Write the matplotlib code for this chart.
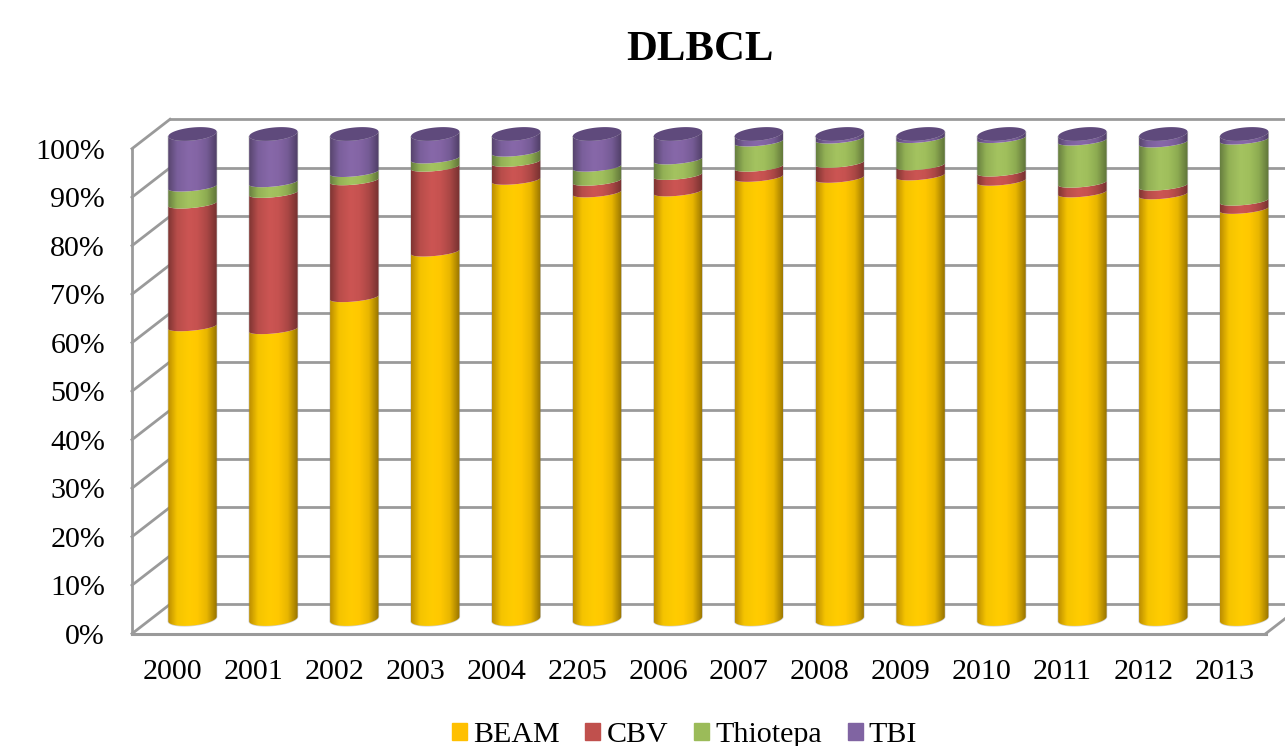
import numpy as np
import matplotlib
matplotlib.use('Agg')
import matplotlib.pyplot as plt
from matplotlib.patches import Patch, PathPatch, Polygon
from matplotlib.path import Path
from matplotlib.colors import LinearSegmentedColormap

plt.rcParams['font.family'] = ['Liberation Serif', 'DejaVu Serif']

# data, percent of each year
years = ['2000', '2001', '2002', '2003', '2004', '2205', '2006',
         '2007', '2008', '2009', '2010', '2011', '2012', '2013']
beam = [60.8, 60.2, 66.8, 76.2, 91.0, 88.4, 88.6, 91.6, 91.4, 91.9, 90.8, 88.4, 88.0, 85.0]
cbv = [25.3, 28.1, 24.1, 17.5, 3.7, 2.4, 3.4, 2.1, 3.1, 2.1, 1.9, 2.0, 1.8, 1.7]
thiotepa = [3.5, 2.2, 1.7, 1.7, 2.1, 2.9, 3.2, 5.2, 5.0, 5.6, 6.9, 8.7, 8.9, 12.6]
tbi = [10.4, 9.5, 7.4, 4.6, 3.2, 6.3, 4.8, 1.1, 0.5, 0.4, 0.4, 0.9, 1.3, 0.7]
y_ticks = [0, 10, 20, 30, 40, 50, 60, 70, 80, 90, 100]

names = ['BEAM', 'CBV', 'Thiotepa', 'TBI']
series = [beam, cbv, thiotepa, tbi]
colors = ['#ffc000', '#c0504d', '#9bbb59', '#8064a2']
# left edge, centre, right edge of each cylinder
shades = [('#bd8f00', '#f5c400', '#ffcc00', '#ffc800', '#e8b600', '#987400'),
          ('#803533', '#b84d4a', '#cc5553', '#c65250', '#ab4745', '#763130'),
          ('#688040', '#93b155', '#a4c360', '#a0bf5c', '#8dab51', '#607539'),
          ('#58456f', '#7a5f9b', '#8768a9', '#8465a5', '#755b95', '#503f67')]
cap_color = '#5f4a7c'

px_x = 80.9          # pixels per category
px_y = 4.85          # pixels per percent
half_w = 24.2 / px_x
arc_h = 6.5 / px_y
inner_h = 4.0 / px_y # boundaries between segments look flatter than the ends
tilt = 2.3 / px_y
dx = 19 / px_x       # half depth of the 3d box
dy = 14.7 / px_y
wall_color = '#9a9a9a'

fig = plt.figure(figsize=(12.85, 7.46), dpi=100)
ax = fig.add_axes([0, 0, 1, 1])
ax.axis('off')
xlim = (-192.5 / px_x, (1285 - 192.5) / px_x)
ylim = ((619 - 746) / px_y, 619 / px_y)
n = len(years)
left = -0.748 + dx   # middle of the left wall
right = n - 1 + 0.265

# walls and gridlines
for v in y_ticks:
    ax.plot([left - dx, left + dx], [v - dy, v + dy], color=wall_color, lw=2, zorder=1)
    ax.plot([left + dx, xlim[1] + 1], [v + dy, v + dy], color=wall_color, lw=2, zorder=1)
ax.plot([left - dx, left - dx], [-dy, 100 - dy], color=wall_color, lw=2, zorder=1)
ax.plot([left - dx, right], [-dy, -dy], color=wall_color, lw=2.2, zorder=1)
ax.plot([right, right + 2 * dx], [-dy, dy], color=wall_color, lw=2, zorder=1)

t = np.linspace(np.pi, 2 * np.pi, 50)


def front_arc(c, level, h=arc_h):
    # lower half of the tilted ellipse, left to right
    return np.column_stack([c + half_w * np.cos(t),
                            level - arc_h + h + h * np.sin(t) + tilt * np.cos(t)])


bottom = np.zeros(n)
for k, (vals, shade) in enumerate(zip(series, shades)):
    cmap = LinearSegmentedColormap.from_list('cyl', list(zip([0, 0.18, 0.42, 0.6, 0.8, 1], shade)))
    for i in range(n):
        low = front_arc(i, bottom[i], arc_h if k == 0 else inner_h)
        high = front_arc(i, bottom[i] + vals[i], arc_h if k == 3 else inner_h)[::-1]
        verts = np.vstack([low, high, low[:1]])
        im = ax.imshow(np.linspace(0, 1, 64).reshape(1, -1), cmap=cmap, aspect='auto',
                       extent=(i - half_w, i + half_w, bottom[i] - 3, bottom[i] + vals[i] + 3),
                       zorder=3, interpolation='bilinear')
        clip = PathPatch(Path(verts), transform=ax.transData, fc='none', ec='none')
        ax.add_patch(clip)
        im.set_clip_path(clip)
    bottom = bottom + np.array(vals)

# soft outline and top cap
for i in range(n):
    outline = np.vstack([front_arc(i, 0), front_arc(i, 100)[::-1]])
    ax.add_patch(Polygon(outline, closed=True, fc='none', ec='#808080', lw=1, alpha=0.35, zorder=2.9))
    tt = np.linspace(0, 2 * np.pi, 100)
    ax.add_patch(Polygon(np.column_stack([i + half_w * np.cos(tt),
                                          100 + arc_h * np.sin(tt) + tilt * np.cos(tt)]),
                         closed=True, fc=cap_color, ec='none', zorder=4))

# labels
for v in y_ticks:
    ax.text(left - dx - 27 / px_x, v - dy - 0.6, '%d%%' % v, ha='right', va='center', fontsize=21.6)
for i, year in enumerate(years):
    ax.text(i - dx - 0.01, -10.9, year, ha='center', va='center', fontsize=21.6)

ax.set_xlim(xlim)
ax.set_ylim(ylim)

fig.text(699.5 / 1285, 1 - 50.5 / 746, 'DLBCL', ha='center', va='center', fontsize=30.8, fontweight='bold')

handles = [Patch(color=c, label=name) for c, name in zip(colors, names)]
fig.legend(handles=handles, loc='center', bbox_to_anchor=(684.5 / 1285, 1 - 735 / 746), ncol=4, frameon=False,
           fontsize=21.6, handlelength=0.5, handleheight=0.5, handletextpad=0.2,
           columnspacing=0.87, borderpad=0, borderaxespad=0)

fig.savefig('out.png', dpi=100)
